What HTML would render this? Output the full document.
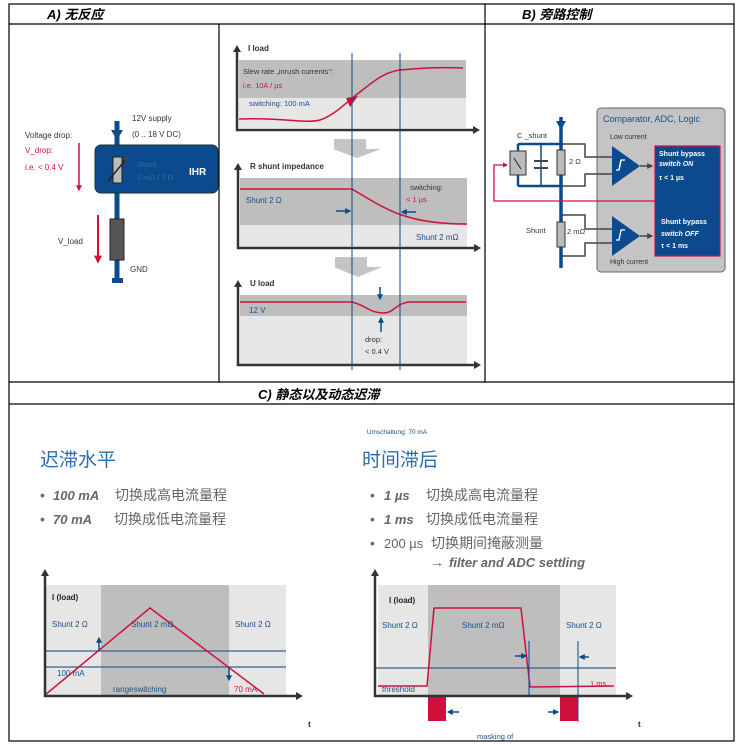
<!DOCTYPE html>
<html><head><meta charset="utf-8"><style>
body{margin:0;background:#fff}
svg{display:block}
text{font-family:"Liberation Sans","Noto Sans CJK SC",sans-serif}
.s{font-size:8px;fill:#333}
</style></head><body>
<svg width="741" height="744" viewBox="0 0 741 744" xmlns="http://www.w3.org/2000/svg">
<defs>
<marker id="ab" viewBox="0 0 10 10" refX="8" refY="5" markerWidth="4" markerHeight="4" orient="auto"><path d="M0,0L10,5L0,10z" fill="#0b4a8c"/></marker>
<marker id="ar" viewBox="0 0 10 10" refX="8" refY="5" markerWidth="4" markerHeight="4" orient="auto"><path d="M0,0L10,5L0,10z" fill="#d0103a"/></marker>
<marker id="ag" viewBox="0 0 10 10" refX="8" refY="5" markerWidth="4" markerHeight="4" orient="auto"><path d="M0,0L10,5L0,10z" fill="#444"/></marker>
</defs>
<g stroke="#000" stroke-width="1.2" fill="none">
<rect x="9" y="4" width="725" height="737"/>
<line x1="9" y1="24" x2="734" y2="24"/>
<line x1="485" y1="4" x2="485" y2="382"/>
<line x1="219" y1="24" x2="219" y2="382"/>
<line x1="9" y1="382" x2="734" y2="382"/>
<line x1="9" y1="404" x2="734" y2="404"/>
</g>
<text x="47" y="19" font-size="13" font-style="italic" font-weight="bold">A)  无反应</text>
<text x="522" y="19" font-size="13" font-style="italic" font-weight="bold">B) 旁路控制</text>
<text x="258" y="399" font-size="13" font-style="italic" font-weight="bold">C)  静态以及动态迟滞</text>

<!-- A left circuit -->
<line x1="117" y1="121" x2="117" y2="280" stroke="#0b4a8c" stroke-width="5"/>
<path d="M111,130 L123,130 L117,140z" fill="#0b4a8c"/>
<rect x="112" y="278" width="11" height="5" fill="#0b4a8c"/>
<rect x="95" y="145" width="123" height="48" rx="6" fill="#0b4a8c" stroke="#233" stroke-width="1"/>
<rect x="113" y="157" width="9" height="26" fill="#bbb" stroke="#222"/>
<line x1="108" y1="181" x2="128" y2="157" stroke="#222" stroke-width="1.5" marker-end="url(#ag)"/>
<text x="137" y="167" font-size="7.5" fill="#3a6aa0">Shunt</text>
<text x="137" y="180" font-size="7.5" fill="#3a6aa0">2 mΩ / 2 Ω</text>
<text x="189" y="175" font-size="10" fill="#fff" font-weight="bold">IHR</text>
<rect x="110" y="219" width="14" height="41" fill="#555" stroke="#222"/>
<text x="132" y="121" class="s">12V supply</text>
<text x="132" y="137" class="s">(0 .. 18 V DC)</text>
<text x="25" y="138" class="s">Voltage drop:</text>
<text x="25" y="153" font-size="8" fill="#d0103a">V_drop:</text>
<text x="25" y="170" font-size="8" fill="#d0103a">i.e.  &lt; 0.4 V</text>
<line x1="79" y1="143" x2="79" y2="190" stroke="#d0103a" stroke-width="1.5" marker-end="url(#ar)"/>
<text x="58" y="244" class="s">V_load</text>
<line x1="98" y1="215" x2="98" y2="262" stroke="#d0103a" stroke-width="2" marker-end="url(#ar)"/>
<text x="130" y="272" class="s">GND</text>

<!-- A right charts -->
<rect x="239" y="60" width="227" height="38" fill="#bebebe"/>
<rect x="239" y="98" width="227" height="30" fill="#e6e6e6"/>
<rect x="240" y="178" width="227" height="47" fill="#bebebe"/>
<rect x="240" y="225" width="227" height="23" fill="#e6e6e6"/>
<rect x="240" y="295" width="227" height="21" fill="#bebebe"/>
<rect x="240" y="316" width="227" height="48" fill="#e6e6e6"/>
<g stroke="#333" stroke-width="2.5" fill="none">
<polyline points="237,50 237,130 475,130"/>
<polyline points="238,168 238,248 476,248"/>
<polyline points="238,285 238,365 476,365"/>
</g>
<g fill="#333">
<path d="M233,52L241,52L237,45z"/><path d="M473,126L480,130L473,134z"/>
<path d="M234,170L242,170L238,163z"/><path d="M474,244L481,248L474,252z"/>
<path d="M234,287L242,287L238,280z"/><path d="M474,361L481,365L474,369z"/>
</g>
<text x="248" y="51" class="s" font-weight="bold">I  load</text>
<text x="243" y="74" font-size="7.5" fill="#333">Slew rate „inrush currents“:</text>
<text x="243" y="88" font-size="7.5" fill="#d0103a">i.e. 10A / µs</text>
<text x="249" y="106" font-size="7.5" fill="#1a4f8a">switching:  100 mA</text>
<path d="M239,119 C280,117 305,124 320,120 C335,115 345,103 360,92 C375,80 385,72 400,70 C420,68 440,67 463,68" stroke="#d0103a" stroke-width="1.5" fill="none"/>
<path d="M346,98L358,96L350,107z" fill="#d0103a"/>
<path d="M334,139h32v10h15l-24,9l-24,-9h1z" fill="#c4c4c4"/>
<path d="M335,257h32v10h15l-24,10l-24,-10h1z" fill="#c4c4c4"/>
<text x="250" y="169" class="s" font-weight="bold">R  shunt impedance</text>
<text x="246" y="203" font-size="8" fill="#1a4f8a">Shunt 2 Ω</text>
<text x="410" y="190" font-size="7.5" fill="#333">switching:</text>
<text x="406" y="202" font-size="7.5" fill="#d0103a">&lt; 1 µs</text>
<text x="416" y="240" font-size="8" fill="#1a4f8a">Shunt 2 mΩ</text>
<path d="M240,189 L352,189 C370,200 390,212 405,216 C420,221 440,224 467,224" stroke="#d0103a" stroke-width="1.5" fill="none"/>
<line x1="336" y1="211" x2="350" y2="211" stroke="#0b4a8c" stroke-width="1.5" marker-end="url(#ab)"/>
<line x1="416" y1="212" x2="402" y2="212" stroke="#0b4a8c" stroke-width="1.5" marker-end="url(#ab)"/>
<text x="250" y="286" class="s" font-weight="bold">U  load</text>
<text x="249" y="313" font-size="8" fill="#1a4f8a">12 V</text>
<path d="M240,302 L352,302 C365,305 370,313 383,313 C395,313 395,303 410,302 L466,302" stroke="#d0103a" stroke-width="1.5" fill="none"/>
<line x1="380" y1="287" x2="380" y2="299" stroke="#0b4a8c" stroke-width="1.5" marker-end="url(#ab)"/>
<line x1="381" y1="332" x2="381" y2="318" stroke="#0b4a8c" stroke-width="1.5" marker-end="url(#ab)"/>
<text x="365" y="342" font-size="7.5" fill="#333">drop:</text>
<text x="365" y="354" font-size="7.5" fill="#333">&lt; 0.4 V</text>
<line x1="352" y1="53" x2="352" y2="370" stroke="#0b4a8c" stroke-width="1"/>
<line x1="400" y1="53" x2="400" y2="370" stroke="#0b4a8c" stroke-width="1"/>

<!-- B -->
<rect x="597" y="108" width="128" height="164" rx="4" fill="#c4c4c4" stroke="#666"/>
<text x="603" y="122" font-size="9" fill="#1a4f8a">Comparator, ADC, Logic</text>
<text x="610" y="139" font-size="7" fill="#333">Low current</text>
<text x="610" y="264" font-size="7" fill="#333">High current</text>
<rect x="655" y="146" width="65" height="110" fill="#0b4a8c" stroke="#d0103a" stroke-width="1.2"/>
<g font-size="7" fill="#fff" font-weight="bold">
<text x="659" y="156">Shunt bypass</text>
<text x="659" y="166" font-style="italic">switch ON</text>
<text x="659" y="180">τ &lt; 1 µs</text>
<text x="661" y="224">Shunt bypass</text>
<text x="661" y="236" font-style="italic">switch OFF</text>
<text x="661" y="248">τ &lt; 1 ms</text>
</g>
<g stroke="#444" stroke-width="1.5" fill="none">
<polyline points="561,144 585,144 585,157 613,157"/>
<polyline points="561,186 585,186 585,174 613,174"/>
<polyline points="561,215 585,215 585,229 613,229"/>
<polyline points="561,256 585,256 585,243 613,243"/>
<line x1="640" y1="166" x2="652" y2="166" marker-end="url(#ag)"/>
<line x1="640" y1="236" x2="652" y2="236" marker-end="url(#ag)"/>
</g>
<path d="M612,146L640,166L612,186z" fill="#0b4a8c"/>
<path d="M612,216L640,236L612,256z" fill="#0b4a8c"/>
<g stroke="#fff" stroke-width="1.3" fill="none">
<polyline points="616,170 619,170 621,160 625,160"/>
<polyline points="616,240 619,240 621,230 625,230"/>
<line x1="619" y1="170" x2="621" y2="160"/>
</g>
<polyline points="518,144 561,144" stroke="#0b4a8c" stroke-width="2.5" fill="none"/>
<polyline points="518,186 561,186" stroke="#0b4a8c" stroke-width="2.5" fill="none"/>
<line x1="518" y1="144" x2="518" y2="186" stroke="#0b4a8c" stroke-width="2.5"/>
<line x1="541" y1="144" x2="541" y2="186" stroke="#0b4a8c" stroke-width="1.5"/>
<line x1="534" y1="161" x2="548" y2="161" stroke="#444" stroke-width="2"/>
<line x1="534" y1="168" x2="548" y2="168" stroke="#444" stroke-width="2"/>
<rect x="510" y="151" width="16" height="24" fill="#bbb" stroke="#333"/>
<line x1="514" y1="158" x2="521" y2="169" stroke="#222"/>
<line x1="561" y1="117" x2="561" y2="268" stroke="#0b4a8c" stroke-width="3.5"/>
<path d="M556,121L566,121L561,130z" fill="#0b4a8c"/>
<rect x="557" y="150" width="8" height="25" fill="#bbb" stroke="#333"/>
<rect x="557" y="222" width="8" height="25" fill="#bbb" stroke="#333"/>
<text x="569" y="164" font-size="7.5" fill="#333">2 Ω</text>
<text x="567" y="234" font-size="7.5" fill="#333">2 mΩ</text>
<text x="517" y="138" font-size="7.5" fill="#333">C _shunt</text>
<text x="526" y="233" font-size="7.5" fill="#333">Shunt</text>
<polyline points="655,201 494,201 494,165 507,165" stroke="#d0103a" stroke-width="1.3" fill="none" marker-end="url(#ar)"/>

<!-- C text -->
<text x="397" y="434" font-size="6.5" fill="#1a4f8a" text-anchor="middle">Umschaltung: 70 mA</text>
<text x="40" y="466" font-size="19" fill="#2a6cb0">迟滞水平</text>
<text x="362" y="466" font-size="19" fill="#2a6cb0">时间滞后</text>
<g font-size="14" fill="#666">
<text x="40" y="500">•</text><text x="53" y="500" font-weight="bold" font-style="italic" font-size="13">100 mA</text><text x="115" y="500">切换成高电流量程</text>
<text x="40" y="524">•</text><text x="53" y="524" font-weight="bold" font-style="italic" font-size="13">70 mA</text><text x="114" y="524">切换成低电流量程</text>
<text x="370" y="500">•</text><text x="384" y="500" font-weight="bold" font-style="italic" font-size="13">1 µs</text><text x="426" y="500">切换成高电流量程</text>
<text x="370" y="524">•</text><text x="384" y="524" font-weight="bold" font-style="italic" font-size="13">1 ms</text><text x="426" y="524">切换成低电流量程</text>
<text x="370" y="548">•</text><text x="384" y="548" font-size="13">200 µs</text><text x="431" y="548">切换期间掩蔽测量</text>
<text x="430" y="567">→</text><text x="449" y="567" font-weight="bold" font-style="italic" font-size="13">filter and ADC settling</text>
</g>

<!-- C left chart -->
<rect x="45" y="585" width="56" height="111" fill="#e6e6e6"/>
<rect x="101" y="585" width="128" height="111" fill="#bebebe"/>
<rect x="229" y="585" width="57" height="111" fill="#e6e6e6"/>
<line x1="45" y1="651" x2="286" y2="651" stroke="#3a5f8f" stroke-width="1.2"/>
<line x1="45" y1="667" x2="286" y2="667" stroke="#3a5f8f" stroke-width="1.2"/>
<polyline points="45,695 150,608 264,694" stroke="#d0103a" stroke-width="1.5" fill="none"/>
<line x1="99" y1="651" x2="99" y2="638" stroke="#0b4a8c" stroke-width="1.5" marker-end="url(#ab)"/>
<line x1="229" y1="667" x2="229" y2="680" stroke="#0b4a8c" stroke-width="1.5" marker-end="url(#ab)"/>
<polyline points="45,574 45,696 298,696" stroke="#333" stroke-width="2.5" fill="none"/>
<path d="M41,576L49,576L45,569z" fill="#333"/><path d="M296,692L303,696L296,700z" fill="#333"/>
<text x="52" y="600" font-size="8" fill="#222" font-weight="bold">I (load)</text>
<text x="52" y="627" font-size="8" fill="#1a4f8a">Shunt 2 Ω</text>
<text x="131" y="627" font-size="8" fill="#1a4f8a">Shunt 2 mΩ</text>
<text x="235" y="627" font-size="8" fill="#1a4f8a">Shunt 2 Ω</text>
<text x="57" y="676" font-size="8" fill="#1a4f8a">100 mA</text>
<text x="113" y="692" font-size="8" fill="#1a4f8a">rangeswitching</text>
<text x="234" y="692" font-size="8" fill="#d0103a">70 mA</text>
<text x="308" y="727" font-size="8" fill="#222" font-weight="bold">t</text>

<!-- C right chart -->
<rect x="378" y="585" width="50" height="111" fill="#e6e6e6"/>
<rect x="428" y="585" width="132" height="111" fill="#bebebe"/>
<rect x="560" y="585" width="56" height="111" fill="#e6e6e6"/>
<line x1="376" y1="668" x2="616" y2="668" stroke="#3a5f8f" stroke-width="1.2"/>
<polyline points="378,686 427,686 434,608 521,608 530,687 614,686" stroke="#d0103a" stroke-width="1.5" fill="none"/>
<line x1="529" y1="641" x2="529" y2="696" stroke="#0b4a8c"/>
<line x1="578" y1="641" x2="578" y2="722" stroke="#0b4a8c"/>
<line x1="515" y1="656" x2="526" y2="656" stroke="#0b4a8c" stroke-width="1.5" marker-end="url(#ab)"/>
<line x1="589" y1="657" x2="580" y2="657" stroke="#0b4a8c" stroke-width="1.5" marker-end="url(#ab)"/>
<rect x="428" y="697" width="18" height="24" fill="#d0103a"/>
<rect x="560" y="697" width="18" height="24" fill="#d0103a"/>
<line x1="459" y1="712" x2="448" y2="712" stroke="#0b4a8c" stroke-width="1.5" marker-end="url(#ab)"/>
<line x1="548" y1="712" x2="558" y2="712" stroke="#0b4a8c" stroke-width="1.5" marker-end="url(#ab)"/>
<polyline points="375,574 375,696 628,696" stroke="#333" stroke-width="2.5" fill="none"/>
<path d="M371,576L379,576L375,569z" fill="#333"/><path d="M626,692L633,696L626,700z" fill="#333"/>
<text x="389" y="603" font-size="8" fill="#222" font-weight="bold">I (load)</text>
<text x="382" y="628" font-size="8" fill="#1a4f8a">Shunt 2 Ω</text>
<text x="462" y="628" font-size="8" fill="#1a4f8a">Shunt 2 mΩ</text>
<text x="566" y="628" font-size="8" fill="#1a4f8a">Shunt 2 Ω</text>
<text x="382" y="692" font-size="8" fill="#1a4f8a">threshold</text>
<text x="590" y="686" font-size="7.5" fill="#d0103a">1 ms</text>
<text x="477" y="739" font-size="7.5" fill="#1a4f8a">masking of</text>
<text x="638" y="727" font-size="8" fill="#222" font-weight="bold">t</text>
</svg>
</body></html>
